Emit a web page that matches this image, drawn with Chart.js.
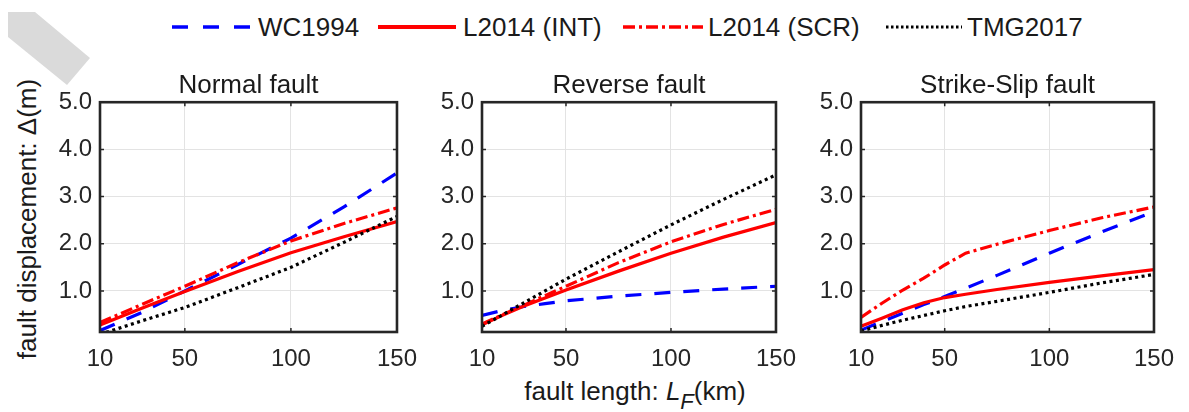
<!DOCTYPE html>
<html>
<head>
<meta charset="utf-8">
<script src="https://cdn.jsdelivr.net/npm/chart.js@4.4.1/dist/chart.umd.min.js"></script>
<style>
  body { margin: 0; background: #fff; width: 1189px; height: 412px; position: relative; overflow: hidden;
         font-family: 'Liberation Sans', Arial, sans-serif; color: #1a1a1a; }
  canvas { position: absolute; }
  .leg-line { position: absolute; top: 22px; }
  .leg-text { position: absolute; top: 12px; font-size: 26px; line-height: 30px; white-space: nowrap; }
  #ylabel { position: absolute; left: 27px; top: 219px; font-size: 26px; white-space: nowrap;
            transform: translate(-50%, -50%) rotate(-90deg); }
  #xlabel { position: absolute; left: 635px; top: 376px; font-size: 26px; line-height: 30px; white-space: nowrap;
            transform: translateX(-50%); }
  #xlabel sub { font-size: 22px; vertical-align: -9px; line-height: 0; }
  #fold { position: absolute; left: 0; top: 0; width: 100px; height: 100px; background: #dadada;
          clip-path: polygon(8px 12px, 35px 12px, 90px 58px, 67px 85px, 8px 37px); }
</style>
</head>
<body>
<div id="fold"></div>

<svg class="leg-line" style="left:170px" width="84" height="10"><line x1="2" y1="5" x2="82" y2="5" stroke="#0000ff" stroke-width="3.5" stroke-dasharray="16 15"/></svg>
<div class="leg-text" style="left:258px">WC1994</div>
<svg class="leg-line" style="left:378px" width="80" height="10"><line x1="0" y1="5" x2="78" y2="5" stroke="#ff0000" stroke-width="4"/></svg>
<div class="leg-text" style="left:463px">L2014 (INT)</div>
<svg class="leg-line" style="left:623px" width="82" height="10"><line x1="0" y1="5" x2="80" y2="5" stroke="#ff0000" stroke-width="3.5" stroke-dasharray="12 4 3 4"/></svg>
<div class="leg-text" style="left:708px">L2014 (SCR)</div>
<svg class="leg-line" style="left:886px" width="80" height="10"><line x1="0" y1="5" x2="76" y2="5" stroke="#000" stroke-width="3" stroke-dasharray="2.5 2.5"/></svg>
<div class="leg-text" style="left:967px">TMG2017</div>

<div id="ylabel">fault displacement: Δ(m)</div>
<div id="xlabel">fault length: <i>L</i><sub><i>F</i></sub>(km)</div>

<canvas id="c0" width="400" height="320" style="left:30px;top:62px"></canvas>
<canvas id="c1" width="397" height="320" style="left:412px;top:62px"></canvas>
<canvas id="c2" width="396" height="320" style="left:791px;top:62px"></canvas>

<script>
const xTicks = [10, 50, 100, 150];
const yTicks = [1, 2, 3, 4, 5];
const panelTitles = ['Normal fault', 'Reverse fault', 'Strike-Slip fault'];
const seriesNames = ['WC1994', 'L2014 (INT)', 'L2014 (SCR)', 'TMG2017'];

// Normal fault
const normalLength = [10, 30, 50, 75, 100, 125, 150];
const normalWC1994 = [0.16, 0.55, 1.0, 1.56, 2.12, 2.78, 3.5];
const normalINT = [0.28, 0.64, 0.99, 1.41, 1.81, 2.15, 2.47];
const normalSCR = [0.33, 0.72, 1.1, 1.6, 2.06, 2.43, 2.76];
const normalTMG = [0.08, 0.37, 0.65, 1.07, 1.5, 2.03, 2.58];

// Reverse fault
const reverseLength = [10, 20, 30, 40, 50, 75, 100, 125, 150];
const reverseWC1994 = [0.48, 0.59, 0.67, 0.73, 0.79, 0.89, 0.97, 1.04, 1.1];
const reverseINT = [0.28, 0.49, 0.68, 0.85, 1.02, 1.42, 1.8, 2.14, 2.45];
const reverseSCR = [0.3, 0.5, 0.7, 0.9, 1.1, 1.6, 2.04, 2.41, 2.73];
const reverseTMG = [0.25, 0.5, 0.75, 1.0, 1.25, 1.83, 2.4, 2.94, 3.46];

// Strike-slip fault
const strikeLength = [10, 20, 30, 40, 50, 60, 75, 100, 125, 150];
const strikeWC1994 = [0.17, 0.35, 0.53, 0.71, 0.88, 1.06, 1.33, 1.8, 2.25, 2.68];
const strikeINT = [0.25, 0.42, 0.6, 0.75, 0.86, 0.93, 1.03, 1.18, 1.32, 1.45];
const strikeSCR = [0.44, 0.74, 1.02, 1.27, 1.55, 1.8, 1.99, 2.28, 2.55, 2.78];
const strikeTMG = [0.15, 0.27, 0.38, 0.48, 0.58, 0.67, 0.78, 0.97, 1.17, 1.35];

const panels = [
  { len: normalLength, series: [normalWC1994, normalINT, normalSCR, normalTMG] },
  { len: reverseLength, series: [reverseWC1994, reverseINT, reverseSCR, reverseTMG] },
  { len: strikeLength, series: [strikeWC1994, strikeINT, strikeSCR, strikeTMG] }
];

const styles = [
  { color: '#0000ff', dash: [16, 13], width: 3.2 },
  { color: '#ff0000', dash: [], width: 3.2 },
  { color: '#ff0000', dash: [12, 4, 3, 4], width: 3.2 },
  { color: '#000000', dash: [3, 3.5], width: 3.2 }
];

Chart.defaults.font.family = "'Liberation Sans', Arial, sans-serif";
Chart.defaults.color = '#262626';

// box and inward tick marks, matlab style
const boxPlugin = {
  id: 'box',
  afterDatasetsDraw(chart) {
    const { ctx, chartArea: a, scales } = chart;
    ctx.save();
    ctx.strokeStyle = '#262626';
    ctx.lineWidth = 1.5;
    ctx.beginPath();
    xTicks.forEach(v => {
      const px = scales.x.getPixelForValue(v);
      ctx.moveTo(px, a.bottom); ctx.lineTo(px, a.bottom - 4);
      ctx.moveTo(px, a.top); ctx.lineTo(px, a.top + 4);
    });
    yTicks.forEach(v => {
      const py = scales.y.getPixelForValue(v);
      ctx.moveTo(a.left, py); ctx.lineTo(a.left + 4, py);
      ctx.moveTo(a.right, py); ctx.lineTo(a.right - 4, py);
    });
    ctx.stroke();
    ctx.lineWidth = 2.6;
    ctx.strokeRect(a.left, a.top, a.right - a.left, a.bottom - a.top);
    ctx.restore();
  }
};

panels.forEach((p, i) => {
  new Chart(document.getElementById('c' + i), {
    type: 'line',
    data: {
      datasets: p.series.map((vals, k) => ({
        label: seriesNames[k],
        data: p.len.map((x, j) => ({ x: x, y: vals[j] })),
        borderColor: styles[k].color,
        borderDash: styles[k].dash,
        borderWidth: styles[k].width,
        borderCapStyle: 'butt',
        pointRadius: 0,
        tension: 0,
        fill: false,
        order: 4 - k
      }))
    },
    options: {
      responsive: false,
      animation: false,
      events: [],
      layout: { padding: { top: 3, right: 32, left: 0, bottom: 0 } },
      plugins: {
        legend: { display: false },
        tooltip: { enabled: false },
        title: {
          display: true,
          fullSize: false,
          text: panelTitles[i],
          color: '#1a1a1a',
          font: { size: 26, weight: 'normal' },
          padding: { top: 5, bottom: 1 }
        }
      },
      scales: {
        x: {
          type: 'linear',
          min: 10,
          max: 150,
          afterBuildTicks: s => { s.ticks = xTicks.map(v => ({ value: v })); },
          afterFit: s => { s.height = 50; },
          grid: { color: '#e3e3e3', lineWidth: 1, drawTicks: false },
          border: { display: false },
          ticks: { font: { size: 24 }, padding: 13, maxRotation: 0 }
        },
        y: {
          type: 'linear',
          min: 0.13,
          max: 5,
          afterBuildTicks: s => { s.ticks = yTicks.map(v => ({ value: v })); },
          afterFit: s => { s.width = 70; },
          grid: { color: '#e3e3e3', lineWidth: 1, drawTicks: false },
          border: { display: false },
          ticks: { font: { size: 24 }, padding: 8, callback: v => v.toFixed(1) }
        }
      }
    },
    plugins: [boxPlugin]
  });
});
</script>
</body>
</html>
